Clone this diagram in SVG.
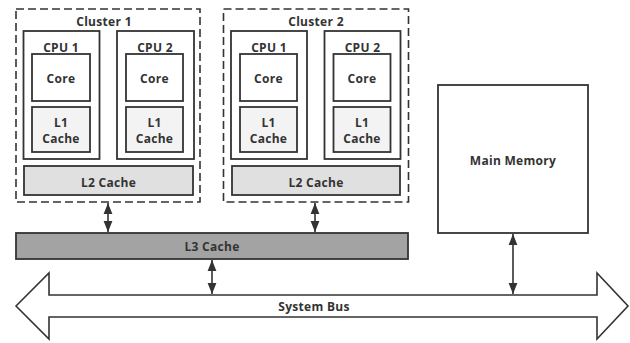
<svg xmlns="http://www.w3.org/2000/svg" width="630" height="343" viewBox="0 0 630 343">
<style>
text{font-family:"Open Sans","Noto Sans","Liberation Sans",sans-serif;font-weight:bold;fill:#333;text-anchor:middle;dominant-baseline:central;font-size:12px;letter-spacing:0.3px}
.cl{fill:none;stroke:#333;stroke-width:1.6;stroke-dasharray:8 4}
.box{fill:#fff;stroke:#333;stroke-width:1.8}
.l1{fill:#f3f3f3;stroke:#333;stroke-width:1.8}
.l2{fill:#e0e0e0;stroke:#333;stroke-width:1.8}
.l3{fill:#a3a3a3;stroke:#333;stroke-width:1.8}
.ln{stroke:#333;stroke-width:1.6;fill:none;marker-start:url(#ah);marker-end:url(#ah)}
</style>
<defs>
<marker id="ah" viewBox="0 0 10 10" refX="10" refY="5" markerWidth="11" markerHeight="11" markerUnits="userSpaceOnUse" orient="auto-start-reverse">
<path d="M0,1 L10,5 L0,9 Z" fill="#333"/>
</marker>
</defs>
<g id="cluster1">
<rect class="cl" x="16" y="9" width="184" height="193"/>
<text x="104" y="21" font-size="12.5">Cluster 1</text>
<g id="c1cpu1">
<rect class="box" x="23.5" y="31" width="76" height="128"/>
<text x="61" y="47">CPU 1</text>
<rect class="box" x="32" y="54" width="58" height="47"/>
<text x="61" y="78">Core</text>
<rect class="l1" x="32" y="107" width="58" height="45"/>
<text x="61" y="122">L1</text>
<text x="61" y="138">Cache</text>
</g>
<g id="c1cpu2">
<rect class="box" x="117" y="31" width="77" height="128"/>
<text x="155" y="47">CPU 2</text>
<rect class="box" x="126" y="54" width="57" height="47"/>
<text x="154.5" y="78">Core</text>
<rect class="l1" x="126" y="107" width="57" height="45"/>
<text x="154.5" y="122">L1</text>
<text x="154.5" y="138">Cache</text>
</g>
<rect class="l2" x="24" y="166" width="169" height="29"/>
<text x="108.5" y="182">L2 Cache</text>
</g>
<g id="cluster2">
<rect class="cl" x="223.5" y="9" width="185" height="193"/>
<text x="316" y="21" font-size="12.5">Cluster 2</text>
<g id="c2cpu1">
<rect class="box" x="231" y="31" width="76" height="128"/>
<text x="269" y="47">CPU 1</text>
<rect class="box" x="240" y="54" width="57" height="47"/>
<text x="268.5" y="78">Core</text>
<rect class="l1" x="240" y="107" width="57" height="45"/>
<text x="268.5" y="122">L1</text>
<text x="268.5" y="138">Cache</text>
</g>
<g id="c2cpu2">
<rect class="box" x="324.5" y="31" width="76" height="128"/>
<text x="362.5" y="47">CPU 2</text>
<rect class="box" x="333.5" y="54" width="57" height="47"/>
<text x="362" y="78">Core</text>
<rect class="l1" x="333.5" y="107" width="57" height="45"/>
<text x="362" y="122">L1</text>
<text x="362" y="138">Cache</text>
</g>
<rect class="l2" x="232" y="166" width="168" height="29"/>
<text x="316" y="182">L2 Cache</text>
</g>
<g id="l3">
<rect class="l3" x="16" y="233" width="392" height="26"/>
<text x="212" y="246">L3 Cache</text>
</g>
<g id="mainmemory">
<rect class="box" x="438" y="85" width="150" height="148"/>
<text x="513" y="160">Main Memory</text>
</g>
<g id="systembus">
<path d="M16,306 L49,273 L49,295 L597,295 L597,273 L628,306 L597,339 L597,317 L49,317 L49,339 Z" fill="#fff" stroke="#333" stroke-width="1.6" stroke-linejoin="miter"/>
<text x="314" y="306">System Bus</text>
</g>
<g id="connectors">
<line class="ln" x1="108" y1="203" x2="108" y2="232"/>
<line class="ln" x1="315" y1="203" x2="315" y2="232"/>
<line class="ln" x1="212" y1="260" x2="212" y2="294"/>
<line class="ln" x1="513" y1="234" x2="513" y2="294"/>
</g>
</svg>
